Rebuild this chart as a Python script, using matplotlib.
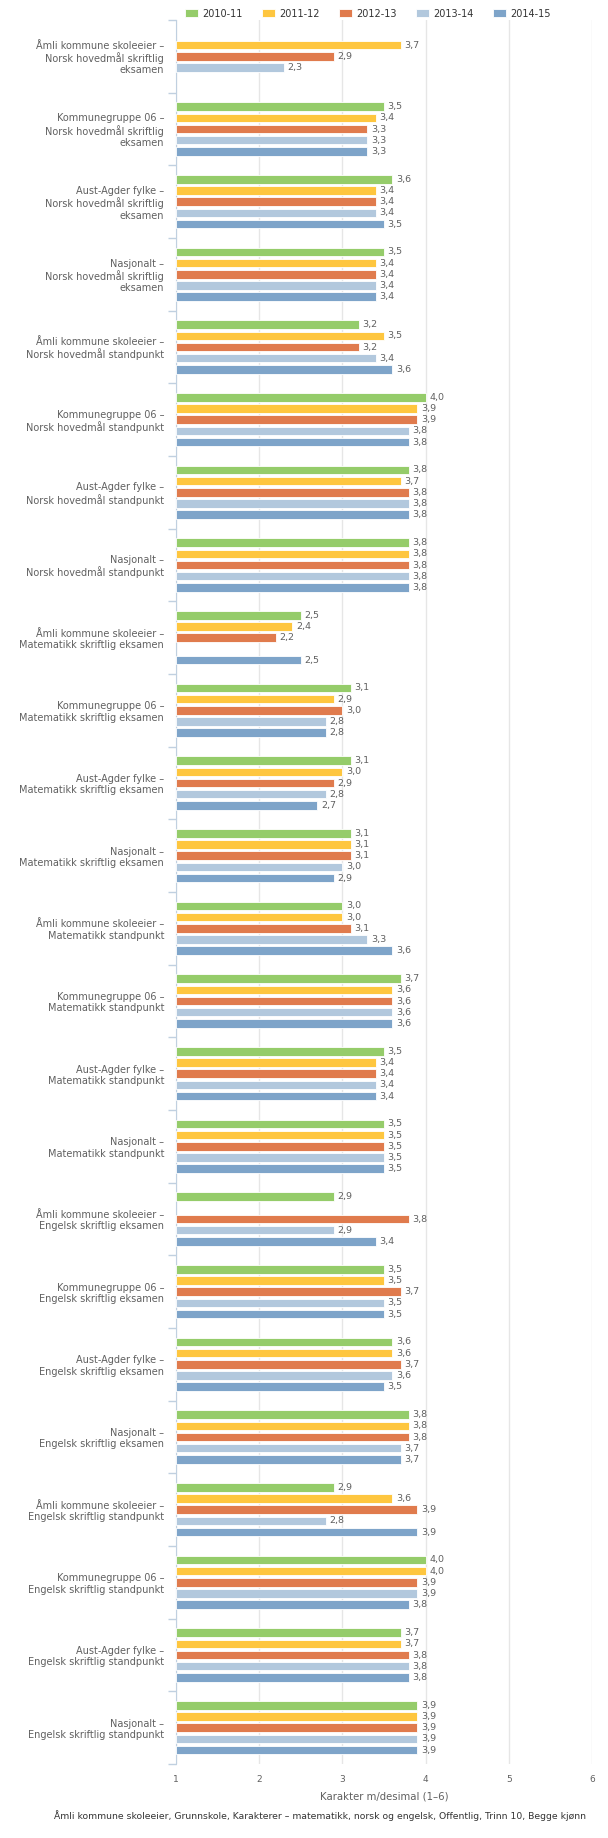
import numpy as np
import matplotlib.pyplot as plt

categories = [
    "Åmli kommune skoleeier –\nNorsk hovedmål skriftlig\neksamen",
    "Kommunegruppe 06 –\nNorsk hovedmål skriftlig\neksamen",
    "Aust-Agder fylke –\nNorsk hovedmål skriftlig\neksamen",
    "Nasjonalt –\nNorsk hovedmål skriftlig\neksamen",
    "Åmli kommune skoleeier –\nNorsk hovedmål standpunkt",
    "Kommunegruppe 06 –\nNorsk hovedmål standpunkt",
    "Aust-Agder fylke –\nNorsk hovedmål standpunkt",
    "Nasjonalt –\nNorsk hovedmål standpunkt",
    "Åmli kommune skoleeier –\nMatematikk skriftlig eksamen",
    "Kommunegruppe 06 –\nMatematikk skriftlig eksamen",
    "Aust-Agder fylke –\nMatematikk skriftlig eksamen",
    "Nasjonalt –\nMatematikk skriftlig eksamen",
    "Åmli kommune skoleeier –\nMatematikk standpunkt",
    "Kommunegruppe 06 –\nMatematikk standpunkt",
    "Aust-Agder fylke –\nMatematikk standpunkt",
    "Nasjonalt –\nMatematikk standpunkt",
    "Åmli kommune skoleeier –\nEngelsk skriftlig eksamen",
    "Kommunegruppe 06 –\nEngelsk skriftlig eksamen",
    "Aust-Agder fylke –\nEngelsk skriftlig eksamen",
    "Nasjonalt –\nEngelsk skriftlig eksamen",
    "Åmli kommune skoleeier –\nEngelsk skriftlig standpunkt",
    "Kommunegruppe 06 –\nEngelsk skriftlig standpunkt",
    "Aust-Agder fylke –\nEngelsk skriftlig standpunkt",
    "Nasjonalt –\nEngelsk skriftlig standpunkt",
]

years = ["2010-11", "2011-12", "2012-13", "2013-14", "2014-15"]

# None = no value reported
v2010 = [None, 3.5, 3.6, 3.5, 3.2, 4.0, 3.8, 3.8, 2.5, 3.1, 3.1, 3.1,
         3.0, 3.7, 3.5, 3.5, 2.9, 3.5, 3.6, 3.8, 2.9, 4.0, 3.7, 3.9]
v2011 = [3.7, 3.4, 3.4, 3.4, 3.5, 3.9, 3.7, 3.8, 2.4, 2.9, 3.0, 3.1,
         3.0, 3.6, 3.4, 3.5, None, 3.5, 3.6, 3.8, 3.6, 4.0, 3.7, 3.9]
v2012 = [2.9, 3.3, 3.4, 3.4, 3.2, 3.9, 3.8, 3.8, 2.2, 3.0, 2.9, 3.1,
         3.1, 3.6, 3.4, 3.5, 3.8, 3.7, 3.7, 3.8, 3.9, 3.9, 3.8, 3.9]
v2013 = [2.3, 3.3, 3.4, 3.4, 3.4, 3.8, 3.8, 3.8, None, 2.8, 2.8, 3.0,
         3.3, 3.6, 3.4, 3.5, 2.9, 3.5, 3.6, 3.7, 2.8, 3.9, 3.8, 3.9]
v2014 = [None, 3.3, 3.5, 3.4, 3.6, 3.8, 3.8, 3.8, 2.5, 2.8, 2.7, 2.9,
         3.6, 3.6, 3.4, 3.5, 3.4, 3.5, 3.5, 3.7, 3.9, 3.8, 3.8, 3.9]
series = [v2010, v2011, v2012, v2013, v2014]

colors = ["#95cc6a", "#fec63f", "#e07b4d", "#b2c8dd", "#7ea4c9"]
txt = "#606060"

plt.rcParams['font.family'] = ['DejaVu Sans']

fig = plt.figure(figsize=(6.08, 18.38), dpi=100)
ax = fig.add_axes([176 / 608, 74 / 1838, 416 / 608, 1744 / 1838])

base = 1
step = 0.154
h = 0.117
ypos = np.arange(len(categories))
for j, (vals, col, lab) in enumerate(zip(series, colors, years)):
    offs = (j - 2) * step
    yy = [y + offs for y, v in zip(ypos, vals) if v is not None]
    ww = [v - base for v in vals if v is not None]
    ax.barh(yy, ww, left=base, height=h, color=col, edgecolor="white",
            linewidth=0.6, label=lab, zorder=3)
    for y, v in zip(yy, ww):
        ax.annotate(f"{v + base:.1f}".replace(".", ","), (v + base, y),
                    xytext=(2.5, 0), textcoords="offset points",
                    va="center", ha="left", fontsize=6.8, color=txt)

ax.set_xlim(1, 6)
ax.set_ylim(len(categories) - 0.5, -0.5)
ax.set_xticks([1, 2, 3, 4, 5, 6])
ax.set_xticklabels(["1", "2", "3", "4", "5", "6"], fontsize=6.5, color=txt)
ax.tick_params(axis="x", length=0, pad=8)
ax.set_yticks(ypos)
ax.set_yticklabels(categories, fontsize=7, color=txt, linespacing=1.15)
ax.tick_params(axis="y", which="major", length=0, pad=8.5)
ax.set_yticks(np.arange(-0.5, len(categories), 1), minor=True)
ax.tick_params(axis="y", which="minor", length=5.5, color="#c0d0e0", width=1)
ax.grid(axis="x", color="#e6e6e6", linewidth=1, zorder=0)
for s in ["top", "right", "bottom"]:
    ax.spines[s].set_visible(False)
ax.spines["left"].set_color("#c0d0e0")
ax.set_xlabel("Karakter m/desimal (1–6)", fontsize=7.3, color=txt, labelpad=5)

fig.legend(loc="upper center", bbox_to_anchor=(0.605, 1.0), ncol=5,
           frameon=False, fontsize=7, handlelength=1.3, handleheight=0.9,
           columnspacing=2.0, handletextpad=0.45, labelcolor="#333333")

fig.text(320 / 608, 1 - 1816 / 1838,
         "Åmli kommune skoleeier, Grunnskole, Karakterer – matematikk, norsk og engelsk, Offentlig, Trinn 10, Begge kjønn",
         ha="center", va="center", fontsize=6.7, color="#333333")

fig.savefig("out.png", dpi=100)
